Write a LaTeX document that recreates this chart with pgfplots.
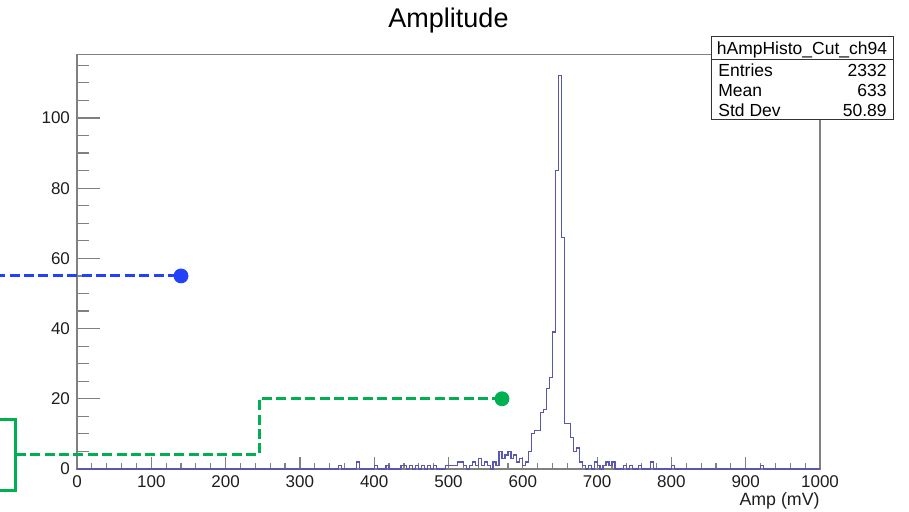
\documentclass[border=0pt]{standalone}
\usepackage{pgfplots}
\pgfplotsset{compat=1.18}
\usepackage{fontspec}
\setmainfont{Liberation Sans}
\definecolor{histblue}{RGB}{88,88,178}
\definecolor{framegray}{RGB}{128,128,128}
\definecolor{annblue}{RGB}{35,65,250}
\definecolor{anngreen}{RGB}{0,175,80}
\definecolor{labgray}{RGB}{30,30,30}
\begin{document}
\begin{tikzpicture}
\begin{axis}[
  at={(0pt,0pt)}, anchor=south west,
  scale only axis, width=371.5pt, height=207.1pt,
  xmin=0, xmax=1000, ymin=0, ymax=118,
  xtick={0,100,...,1000}, minor xtick={0,20,...,1000},
  ytick={0,20,...,100}, minor ytick={0,5,...,115},
  xtick pos=left, ytick pos=left, tick align=inside,
  major tick length=11.3pt, minor tick length=6pt,
  major x tick style={/pgfplots/major tick length=6pt},
  minor x tick style={/pgfplots/minor tick length=3pt},
  axis line style={draw=framegray, line width=0.6pt},
  tick style={draw=framegray, line width=0.6pt},
  /pgf/number format/assume math mode=true,
  /pgf/number format/set thousands separator={},
  tick label style={font=\fontsize{8.5}{10}\selectfont, text=labgray},
  xlabel={Amp (mV)},
  xlabel style={at={(axis description cs:1,0)}, anchor=base east, inner sep=0pt, yshift=-18.2pt, font=\fontsize{8.9}{10}\selectfont, text=labgray},
  title={Amplitude},
  title style={at={(axis description cs:0.5,1)}, anchor=base, inner sep=0pt, yshift=7.6pt, font=\fontsize{13.5}{15}\selectfont},
  clip=false,
]
\addplot[const plot, color=histblue, line width=0.6pt] table {
x y
0 0
352 1
356 0
376 2
380 0
400 1
404 0
416 1
420 0
436 1
444 0
448 1
452 0
456 1
460 0
464 1
468 0
472 1
476 0
480 1
484 0
496 1
512 2
520 1
524 0
528 1
532 2
536 1
540 3
544 1
548 2
552 1
556 0
560 2
564 1
568 5
572 3
576 4
580 5
584 3
588 4
592 2
596 3
600 1
604 2
608 5
612 10
616 11
624 16
628 17
632 23
636 26
640 39
644 85
648 112
652 66
656 13
664 9
668 5
672 6
676 2
680 1
684 0
688 1
692 0
696 2
700 1
704 0
708 1
712 2
716 1
720 2
724 0
736 1
740 0
744 1
748 0
756 1
760 0
772 2
776 0
800 1
804 0
920 1
924 0
1000 0
};
% annotations
\addplot[color=annblue, line width=1.5pt, dash pattern=on 5pt off 2.2pt] coordinates {(-110,55) (140,55)};
\addplot[only marks, mark=*, mark size=3.5pt, color=annblue] coordinates {(140,55)};
\addplot[color=anngreen, line width=1.5pt] coordinates {(-110,14) (-82.5,14) (-82.5,-6) (-110,-6)};
\addplot[color=anngreen, line width=1.5pt, dash pattern=on 5pt off 2.2pt] coordinates {(-82.5,4) (245,4) (245,20) (572,20)};
\addplot[only marks, mark=*, mark size=3.5pt, color=anngreen] coordinates {(572,20)};
\end{axis}
% stats box
\draw[fill=white, draw=black!80, line width=0.5pt] (317pt,174.5pt) rectangle (408pt,216pt);
\draw[draw=black!80, line width=0.5pt] (317pt,204.5pt) -- (408pt,204.5pt);
\begin{scope}[every node/.style={inner sep=0pt, font=\fontsize{8.75}{10}\selectfont}]
\node[anchor=base] at (362.5pt,207pt) {hAmpHisto\_Cut\_ch94};
\node[anchor=base west] at (320.5pt,196.1pt) {Entries};
\node[anchor=base east] at (405pt,196.1pt) {2332};
\node[anchor=base west] at (320.5pt,186.1pt) {Mean};
\node[anchor=base east] at (405pt,186.1pt) {633};
\node[anchor=base west] at (320.5pt,176.1pt) {Std Dev};
\node[anchor=base east] at (405pt,176.1pt) {50.89};
\end{scope}
\pgfresetboundingbox
\path[use as bounding box] (-38.5pt,-21.5pt) rectangle (416pt,234.5pt);
\end{tikzpicture}
\end{document}
